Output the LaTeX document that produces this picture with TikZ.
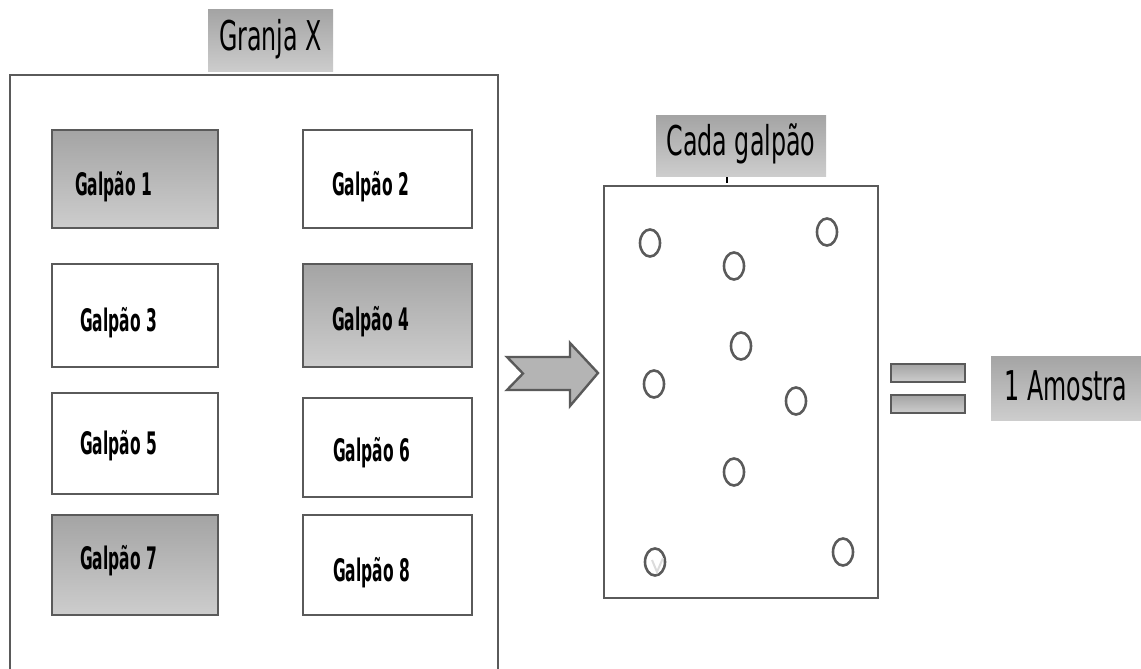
\documentclass[tikz,border=0pt]{standalone}
\usepackage{fontspec}
\newfontfamily\cond[FakeStretch=0.5]{DejaVu Sans}
\newfontfamily\condl[FakeStretch=0.58]{DejaVu Sans}
\usetikzlibrary{shapes.geometric}
\definecolor{frameg}{HTML}{5A5A5A}
\definecolor{gtop}{HTML}{A4A4A4}
\definecolor{gbot}{HTML}{CDCDCD}
\tikzset{
  grad/.style={top color=gtop, bottom color=gbot},
  galbox/.style={draw=frameg, line width=1.6pt},
  galtext/.style={font=\cond\bfseries\fontsize{31}{32}\selectfont, anchor=west, inner sep=0pt},
  lbl/.style={font=\condl\fontsize{41}{43}\selectfont, inner sep=0pt},
  dot/.style={draw=frameg, line width=2.6pt, ellipse, minimum width=20pt, minimum height=27pt, inner sep=0pt},
}
\begin{document}
\begin{tikzpicture}[x=1pt,y=-1pt]
\useasboundingbox (0,0) rectangle (1141,669);
% big farm frame (open at bottom)
\draw[frameg, line width=2.4pt] (10,680) -- (10,75) -- (498,75) -- (498,680);
% title Granja X
\node[grad, minimum width=125pt, minimum height=62pt, inner sep=0pt] (title) at (270.5,41) {};
\node[lbl] (titletext) at ([yshift=2pt]title.center) {Granja X};
% galpoes
\foreach \n/\xa/\ya/\xb/\yb/\sh/\dx/\ty in {
  1/52/130/218/228/1/23/187, 2/303/130/472/228/0/29/187,
  3/52/264/218/367/0/28/323, 4/303/264/472/367/1/29/322,
  5/52/393/218/494/0/28/446, 6/303/398/472/497/0/30/453,
  7/52/515/218/615/1/28/561, 8/303/515/472/615/0/30/573}{
  \ifnum\sh=1
    \path[galbox, grad] (\xa,\ya) rectangle (\xb,\yb);
  \else
    \path[galbox, fill=white] (\xa,\ya) rectangle (\xb,\yb);
  \fi
  \coordinate (g\n) at ({\xa+\dx},\ty);
  \node[galtext] (gt\n) at (g\n) {Galpão \n};
}
% block arrow
\draw[frameg, line width=2.4pt, fill=gtop!60!gbot]
  (507,357) -- (570,357) -- (570,343) -- (598,373) -- (570,406) -- (570,390) -- (507,390) -- (523,373.5) -- cycle;
% Cada galpao
\node[grad, minimum width=170pt, minimum height=61pt, inner sep=0pt] (cadabox) at (741,145.5) {};
\node[lbl] (cadatext) at ([yshift=2pt]cadabox.center) {Cada galpão};
\draw[black, line width=1.4pt] (727,177) -- (727,183);
\draw[frameg, line width=2.6pt] (604,186) rectangle (878,598);
% sample points
\foreach \i/\x/\y in {1/650/243, 2/734/266, 3/827/232, 4/741/346, 5/654/384,
  6/796/401, 7/734/472, 8/655/562, 9/843/552}{
  \node[dot] (p\i) at (\x,\y) {};
}
\draw[gbot!70, line width=2pt] (652,560) -- (657,572) -- (663,558);
% equals
\draw[frameg, line width=2.4pt, grad] (891,364) rectangle (965,382);
\draw[frameg, line width=2.4pt, grad] (891,395) rectangle (965,413);
% 1 Amostra
\node[grad, minimum width=150pt, minimum height=64pt, inner sep=0pt] (amobox) at (1066,388) {};
\node[lbl] (amotext) at ([yshift=2pt]amobox.center) {1 Amostra};
\end{tikzpicture}
\end{document}
